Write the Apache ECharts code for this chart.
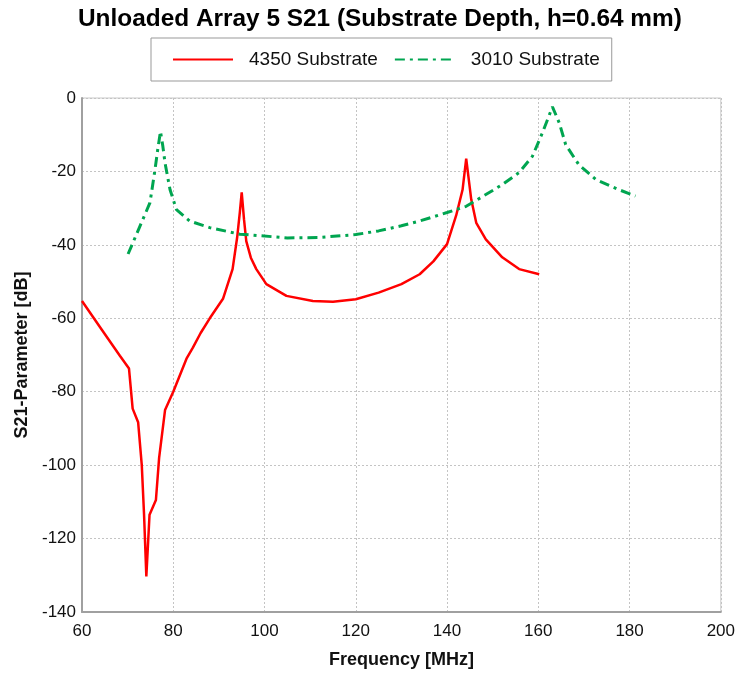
<!DOCTYPE html>
<html>
<head>
<meta charset="utf-8">
<script src="https://cdn.jsdelivr.net/npm/echarts@6/dist/echarts.min.js"></script>
<style>html,body{margin:0;padding:0;background:#fff;}#c{width:738px;height:674px;}</style>
</head>
<body>
<div id="c"></div>
<script>
var titleText = 'Unloaded Array 5 S21 (Substrate Depth, h=0.64 mm)';
var seriesNames = ['4350 Substrate', '3010 Substrate'];
var xTicks = [60, 80, 100, 120, 140, 160, 180, 200];
var yTicks = [0, -20, -40, -60, -80, -100, -120, -140];

var freq4350 = [60, 64, 68.3, 70.3, 71.1, 72.3, 73.1, 73.6, 74.1, 74.8, 76.2, 76.9, 78.2, 80, 82.9, 84.3, 86, 88, 90.9, 93, 94, 94.6, 95, 95.5, 96, 97, 98.2, 100.4, 104.8, 110.6, 115, 120, 125, 130, 134, 137, 140, 142, 143.4, 144.2, 145.3, 146.4, 148.5, 152.1, 155.8, 160.2];
var s4350 = [-55.3, -62.5, -70.2, -73.7, -84.6, -88.3, -100, -113.5, -130.3, -113.5, -109.5, -98, -85, -80, -71, -68, -64, -60, -54.7, -46.6, -38, -31, -25.7, -33, -39, -43.5, -46.6, -50.7, -53.9, -55.3, -55.5, -54.8, -53, -50.7, -48, -44.5, -39.8, -32, -25, -16.5, -27.6, -34, -38.5, -43.4, -46.6, -48];

var freq3010 = [70.1, 72.5, 74.9, 76, 76.6, 77.2, 77.7, 78.2, 79.3, 80.7, 83.6, 88, 94.6, 98.9, 105, 112, 120, 125, 130, 134, 140, 144.2, 148.5, 152.1, 155.8, 158.7, 160.9, 162.3, 163.1, 164.6, 166, 168.9, 172.6, 177.7, 181.3];
var s3010 = [-42.5, -35.5, -28.5, -19.5, -14, -9.1, -13, -17.7, -25, -30.4, -33.5, -35.3, -37.1, -37.5, -38.1, -38, -37.2, -36.2, -34.8, -33.5, -31.2, -29.5, -26.3, -23.6, -20.3, -15.9, -9.5, -5, -2.4, -6.8, -12.7, -18.2, -22.2, -25, -26.7];

function pairs(xs, ys) { return xs.map(function (x, i) { return [x, ys[i]]; }); }

var font = 'Liberation Sans, Arial, sans-serif';
var chart = echarts.init(document.getElementById('c'));
chart.setOption({
  animation: false,
  backgroundColor: '#fff',
  title: {
    text: titleText, left: 73, top: 2,
    textStyle: { fontFamily: font, fontSize: 24.4, fontWeight: 'bold', color: '#000' }
  },
  legend: {
    left: 151, top: 38,
    padding: [12, 12, 12, 21],
    borderColor: '#999', borderWidth: 1,
    itemWidth: 60, itemHeight: 18, itemGap: 16,
    itemStyle: { opacity: 0 },
    data: seriesNames,
    textStyle: { fontFamily: font, fontSize: 19, color: '#111', padding: [0, 0, 0, 11] }
  },
  grid: {
    left: 82, right: 16, top: 98, bottom: 60,
    show: true, borderColor: '#c8c8c8', borderWidth: 1
  },
  xAxis: {
    type: 'value', min: 60, max: 200, interval: 20,
    name: 'Frequency [MHz]', nameLocation: 'middle', nameGap: 39,
    nameTextStyle: { fontFamily: font, fontSize: 18, fontWeight: 'bold', color: '#111' },
    axisLine: { show: true, onZero: false, lineStyle: { color: '#a0a0a0', width: 2 } },
    axisTick: { show: false },
    axisLabel: { fontFamily: font, fontSize: 17, color: '#111', margin: 11,
      formatter: function (v) { return xTicks.indexOf(v) >= 0 ? String(v) : ''; } },
    splitLine: { show: true, lineStyle: { color: '#c4c4c4', type: [2, 2], width: 1 } }
  },
  yAxis: {
    type: 'value', min: -140, max: 0, interval: 20,
    name: 'S21-Parameter [dB]', nameLocation: 'middle', nameGap: 45, nameRotate: 90,
    nameTextStyle: { fontFamily: font, fontSize: 18, fontWeight: 'bold', color: '#111' },
    axisLine: { show: true, onZero: false, lineStyle: { color: '#a0a0a0', width: 2 } },
    axisTick: { show: false },
    axisLabel: { fontFamily: font, fontSize: 17, color: '#111', margin: 6,
      formatter: function (v) { return yTicks.indexOf(v) >= 0 ? String(v) : ''; } },
    splitLine: { show: true, lineStyle: { color: '#c4c4c4', type: [2, 2], width: 1 } }
  },
  series: [
    {
      name: seriesNames[0], type: 'line', data: pairs(freq4350, s4350),
      symbol: 'none', smooth: false,
      lineStyle: { color: '#ff0000', width: 2.5 },
      itemStyle: { color: '#ff0000' }
    },
    {
      name: seriesNames[1], type: 'line', data: pairs(freq3010, s3010),
      symbol: 'none', smooth: false,
      lineStyle: { color: '#00a550', width: 3, type: [10, 5, 3, 5] },
      itemStyle: { color: '#00a550' }
    }
  ]
});
</script>
</body>
</html>
